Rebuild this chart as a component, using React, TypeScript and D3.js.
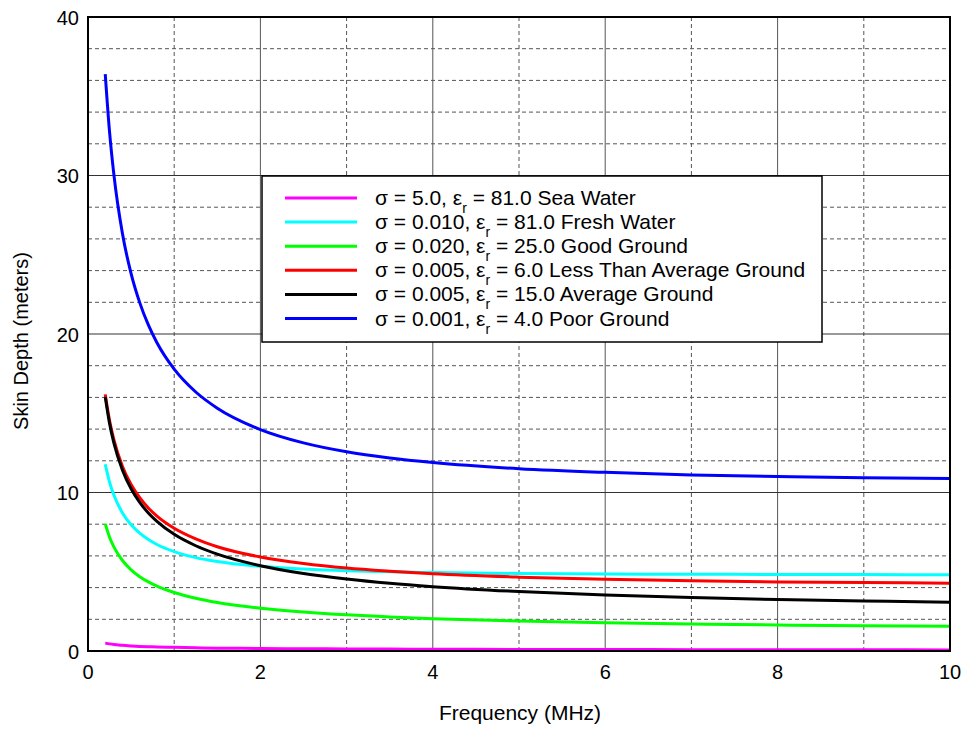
import React from 'react';
import * as d3 from 'd3';

// frequencies (MHz) the curves were read at
const freqMHz = [0.2, 0.25, 0.3, 0.4, 0.5, 0.6, 0.7, 0.8, 1.0, 1.25, 1.5, 2, 2.5, 3, 3.5, 4, 5, 6, 7, 8, 9, 10];

// skin depth in meters, one list per curve
const seaWater = [0.5, 0.45, 0.41, 0.36, 0.32, 0.29, 0.27, 0.25, 0.23, 0.2, 0.18, 0.16, 0.14, 0.13, 0.12, 0.11, 0.1, 0.09, 0.085, 0.08, 0.075, 0.07];
const freshWater = [11.78, 10.66, 9.84, 8.71, 7.96, 7.43, 7.03, 6.72, 6.27, 5.89, 5.64, 5.34, 5.17, 5.06, 5.0, 4.95, 4.89, 4.86, 4.84, 4.83, 4.82, 4.81];
const goodGround = [8.02, 7.18, 6.57, 5.71, 5.12, 4.69, 4.36, 4.09, 3.69, 3.33, 3.06, 2.7, 2.46, 2.28, 2.15, 2.04, 1.89, 1.78, 1.7, 1.64, 1.6, 1.56];
const lessThanAverage = [16.19, 14.54, 13.33, 11.64, 10.5, 9.67, 9.02, 8.51, 7.74, 7.07, 6.58, 5.93, 5.52, 5.23, 5.03, 4.87, 4.66, 4.52, 4.43, 4.36, 4.32, 4.28];
const averageGround = [16.03, 14.36, 13.13, 11.41, 10.24, 9.38, 8.71, 8.18, 7.36, 6.64, 6.11, 5.38, 4.89, 4.54, 4.27, 4.06, 3.75, 3.53, 3.37, 3.25, 3.16, 3.08];
const poorGround = [36.4, 32.75, 30.07, 26.32, 23.81, 21.98, 20.57, 19.45, 17.78, 16.34, 15.32, 13.97, 13.13, 12.57, 12.18, 11.89, 11.5, 11.27, 11.11, 11.01, 10.93, 10.88];

const sigmaLabels = ['5.0', '0.010', '0.020', '0.005', '0.005', '0.001'];
const epsLabels = ['81.0', '81.0', '25.0', '6.0', '15.0', '4.0'];
const groundNames = ['Sea Water', 'Fresh Water', 'Good Ground', 'Less Than Average Ground', 'Average Ground', 'Poor Ground'];
const seriesColors = ['#ff00ff', '#00ffff', '#00ff00', '#ff0000', '#000000', '#0000ff'];

const xTicks = [0, 2, 4, 6, 8, 10];
const yTicks = [0, 10, 20, 30, 40];

const FONT = '"Liberation Sans", Arial, sans-serif';

export default function App() {
  const width = 967;
  const height = 730;
  const left = 88, right = 950, top = 17, bottom = 651;

  const x = d3.scaleLinear().domain([0, 10]).range([left, right]);
  const y = d3.scaleLinear().domain([0, 40]).range([bottom, top]);

  const allSeries = [seaWater, freshWater, goodGround, lessThanAverage, averageGround, poorGround];

  const line = d3.line<number>()
    .x((_, i) => x(freqMHz[i]))
    .y(d => y(d))
    .curve(d3.curveMonotoneX);

  const minorX = d3.range(1, 10, 2);
  const majorX = d3.range(2, 10, 2);
  const majorY = d3.range(10, 40, 10);
  const minorY = d3.range(2, 40, 2).filter(v => v % 10 !== 0);

  // legend box
  const lg = { x0: 262, y0: 176, x1: 822, y1: 342, row0: 198, step: 24.1 };

  return (
    <svg width={width} height={height} style={{ position: 'absolute', left: 0, top: 0, background: '#fff' }} fontFamily={FONT}>
      <rect x={0} y={0} width={width} height={height} fill="#fff" />

      {/* grid */}
      {minorX.map(v => (
        <line key={'mx' + v} x1={x(v)} x2={x(v)} y1={top} y2={bottom} stroke="#555" strokeWidth={1} strokeDasharray="4,3" />
      ))}
      {minorY.map(v => (
        <line key={'my' + v} x1={left} x2={right} y1={y(v)} y2={y(v)} stroke="#555" strokeWidth={1} strokeDasharray="4,3" />
      ))}
      {majorX.map(v => (
        <line key={'Mx' + v} x1={x(v)} x2={x(v)} y1={top} y2={bottom} stroke="#555" strokeWidth={1} />
      ))}
      {majorY.map(v => (
        <line key={'My' + v} x1={left} x2={right} y1={y(v)} y2={y(v)} stroke="#333" strokeWidth={1} />
      ))}

      {/* curves */}
      {allSeries.map((s, i) => (
        <path key={'s' + i} d={line(s) || ''} fill="none" stroke={seriesColors[i]} strokeWidth={3} strokeLinejoin="round" />
      ))}

      {/* frame */}
      <rect x={left} y={top} width={right - left} height={bottom - top} fill="none" stroke="#000" strokeWidth={2} />

      {/* legend */}
      <rect x={lg.x0} y={lg.y0} width={lg.x1 - lg.x0} height={lg.y1 - lg.y0} fill="#fff" stroke="#000" strokeWidth={1.5} />
      {groundNames.map((name, i) => {
        const cy = lg.row0 + i * lg.step;
        return (
          <g key={'lg' + i}>
            <line x1={285} x2={357} y1={cy} y2={cy} stroke={seriesColors[i]} strokeWidth={3} />
            <text x={375} y={cy + 7} fontSize={21} fill="#000">
              {`σ = ${sigmaLabels[i]}, ε`}
              <tspan fontSize={14} dy={8}>r</tspan>
              <tspan dy={-8}>{` = ${epsLabels[i]} ${name}`}</tspan>
            </text>
          </g>
        );
      })}

      {/* tick labels */}
      {xTicks.map(v => (
        <text key={'xt' + v} x={x(v)} y={679} fontSize={20} textAnchor="middle" fill="#000">{v}</text>
      ))}
      {yTicks.map(v => (
        <text key={'yt' + v} x={79} y={y(v) + 7.5} fontSize={20} textAnchor="end" fill="#000">{v}</text>
      ))}

      {/* axis titles */}
      <text x={520} y={720} fontSize={21} textAnchor="middle" fill="#000">Frequency (MHz)</text>
      <text transform={`translate(28,341) rotate(-90)`} fontSize={20} textAnchor="middle" fill="#000">Skin Depth (meters)</text>
    </svg>
  );
}
